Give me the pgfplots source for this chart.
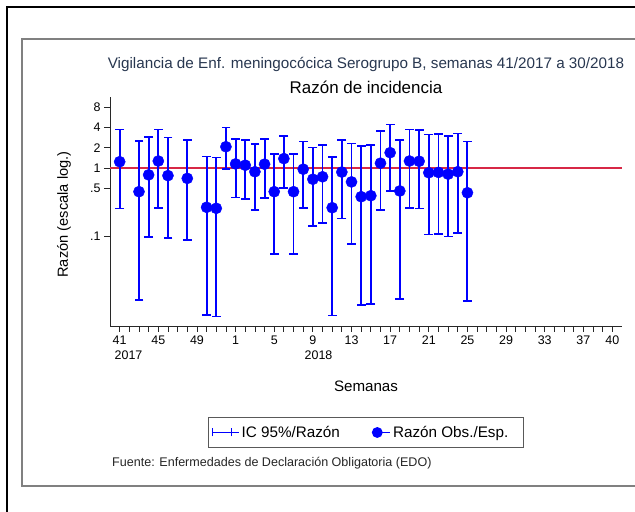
\documentclass[border=0pt]{standalone}
\usepackage{pgfplots}
\pgfplotsset{compat=1.18}
\usepackage{pgfplotstable}
\usepackage{fontspec}
\setmainfont{Liberation Sans}
\definecolor{ciblue}{RGB}{0,0,255}
\definecolor{refred}{RGB}{215,40,70}
\definecolor{titlecol}{RGB}{40,55,80}
\definecolor{axcol}{RGB}{40,40,40}

% idx: 0 = week 41/2017, 12 = week 1/2018 ; y = ratio obs./esp.
\pgfplotstableread{
idx y
0 1.25
2 0.452
3 0.80
4 1.28
5 0.78
7 0.71
9 0.266
10 0.257
11 2.08
12 1.16
13 1.11
14 0.89
15 1.15
16 0.452
17 1.39
18 0.452
19 0.97
20 0.69
21 0.75
22 0.262
23 0.88
24 0.63
25 0.381
26 0.394
27 1.19
28 1.70
29 0.463
30 1.28
31 1.27
32 0.86
33 0.87
34 0.82
35 0.89
36 0.436
}\ratiotable

% 95% CI: lower, upper, break
\pgfplotstableread{
idx v
0 0.257
0 3.71
0 nan
2 0.0113
2 2.53
2 nan
3 0.096
3 2.90
3 nan
4 0.262
4 3.76
4 nan
5 0.094
5 2.83
5 nan
7 0.087
7 2.61
7 nan
9 0.0068
9 1.50
9 nan
10 0.0065
10 1.45
10 nan
11 0.98
11 4.02
11 nan
12 0.373
12 2.73
12 nan
13 0.356
13 2.59
13 nan
14 0.243
14 2.28
14 nan
15 0.368
15 2.68
15 nan
16 0.054
16 1.63
16 nan
17 0.507
17 2.99
17 nan
18 0.054
18 1.63
18 nan
19 0.262
19 2.47
19 nan
20 0.142
20 2.04
20 nan
21 0.155
21 2.21
21 nan
22 0.0067
22 1.48
22 nan
23 0.181
23 2.59
23 nan
24 0.077
24 2.31
24 nan
25 0.0096
25 2.13
25 nan
26 0.0099
26 2.21
26 nan
27 0.245
27 3.55
27 nan
28 0.467
28 4.40
28 nan
29 0.0118
29 2.64
29 nan
30 0.262
30 3.76
30 nan
31 0.257
31 3.70
31 nan
32 0.105
32 3.17
32 nan
33 0.107
33 3.20
33 nan
34 0.098
34 2.99
34 nan
35 0.111
35 3.28
35 nan
36 0.0111
36 2.47
36 nan
}\citable

\begin{document}
\begin{tikzpicture}
\useasboundingbox (0bp,0bp) rectangle (635bp,512bp);
\fill[white] (0bp,0bp) rectangle (635bp,512bp);
% frames
\draw[black, line width=2.5bp] (7bp,-5bp) -- (7bp,505bp) -- (640bp,505bp);
\draw[gray, line width=1.5bp] (640bp,473bp) -- (22bp,473bp) -- (22bp,26bp) -- (640bp,26bp);

\begin{axis}[
  at={(110bp,186bp)}, anchor=south west,
  scale only axis, width=512bp, height=229bp,
  ymode=log, ymin=0.00472, ymax=11.26,
  xmin=-1, xmax=52,
  axis x line*=bottom, axis y line*=left,
  axis line style={-, axcol, line width=0.8bp},
  tick style={axcol, line width=0.8bp},
  tick align=outside,
  major tick length=6bp, minor tick length=6bp,
  xtick={0,4,8,12,16,20,24,28,32,36,40,44,48,51},
  xticklabels={41,45,49,1,5,9,13,17,21,25,29,33,37,40},
  minor xtick={0,1,...,51},
  ytick={0.1,0.5,1,2,4,8},
  yticklabels={.1,.5,1,2,4,8},
  yminorticks=false,
  /pgf/number format/assume math mode=true,
  ticklabel style={font=\fontsize{12.5}{13}\selectfont, text=black},
  unbounded coords=jump,
  legend style={at={(0.5,-0.465)}, anchor=center, draw=gray!70!black, line width=1.2bp,
    font=\fontsize{15.3}{17}\selectfont, legend columns=2,
    inner xsep=3bp, inner ysep=6.5bp},
  /tikz/every even column/.append style={column sep=30bp},
  clip=false,
]
\addplot[refred, line width=1.8bp, forget plot] coordinates {(-1,1) (52,1)};
% CI bars with caps
\addplot[ciblue, line width=1.9bp, mark=-, mark size=4.4bp, mark options={solid, line width=1.6bp, ciblue},
  legend image code/.code={\draw[ciblue, line width=1.4bp] (0bp,-4bp) -- (0bp,4bp) (0bp,0bp) -- (19bp,0bp) (19bp,-4bp) -- (19bp,4bp); \path (0bp,0bp) -- (26bp,0bp);}]
  table[x=idx, y=v] {\citable};
\addlegendentry{IC 95\%/Razón}
% points
\addplot[only marks, mark=*, mark size=5.6bp, ciblue, mark options={fill=ciblue, draw=ciblue},
  legend image code/.code={\fill[ciblue] (4.8bp,0bp) circle (4.8bp); \path (0bp,0bp) -- (18bp,0bp);}]
  table[x=idx, y=y] {\ratiotable};
\addlegendentry{Razón Obs./Esp.\kern10bp\rule{0bp}{1bp}}
\end{axis}

% titles
\node[text=titlecol, font=\fontsize{15.3}{17}\selectfont] at (366bp,448bp) {Vigilancia de Enf. meningocócica Serogrupo B, semanas 41/2017 a 30/2018};
\node[text=black, font=\fontsize{17}{19}\selectfont] at (366bp,425bp) {Razón de incidencia};
\node[rotate=90, font=\fontsize{14.7}{16}\selectfont] at (64bp,297.5bp) {Razón (escala log.)};
\node[font=\fontsize{15.2}{17}\selectfont] at (366bp,126bp) {Semanas};
\node[anchor=west, font=\fontsize{12.5}{13}\selectfont, inner sep=0pt] at (114.5bp,157bp) {2017};
\node[anchor=west, font=\fontsize{12.5}{13}\selectfont, inner sep=0pt] at (304.5bp,157bp) {2018};
\node[anchor=west, font=\fontsize{12.6}{14}\selectfont, text=black!85, inner sep=0pt] at (112bp,49bp) {Fuente: Enfermedades de Declaración Obligatoria (EDO)};
\end{tikzpicture}
\end{document}
